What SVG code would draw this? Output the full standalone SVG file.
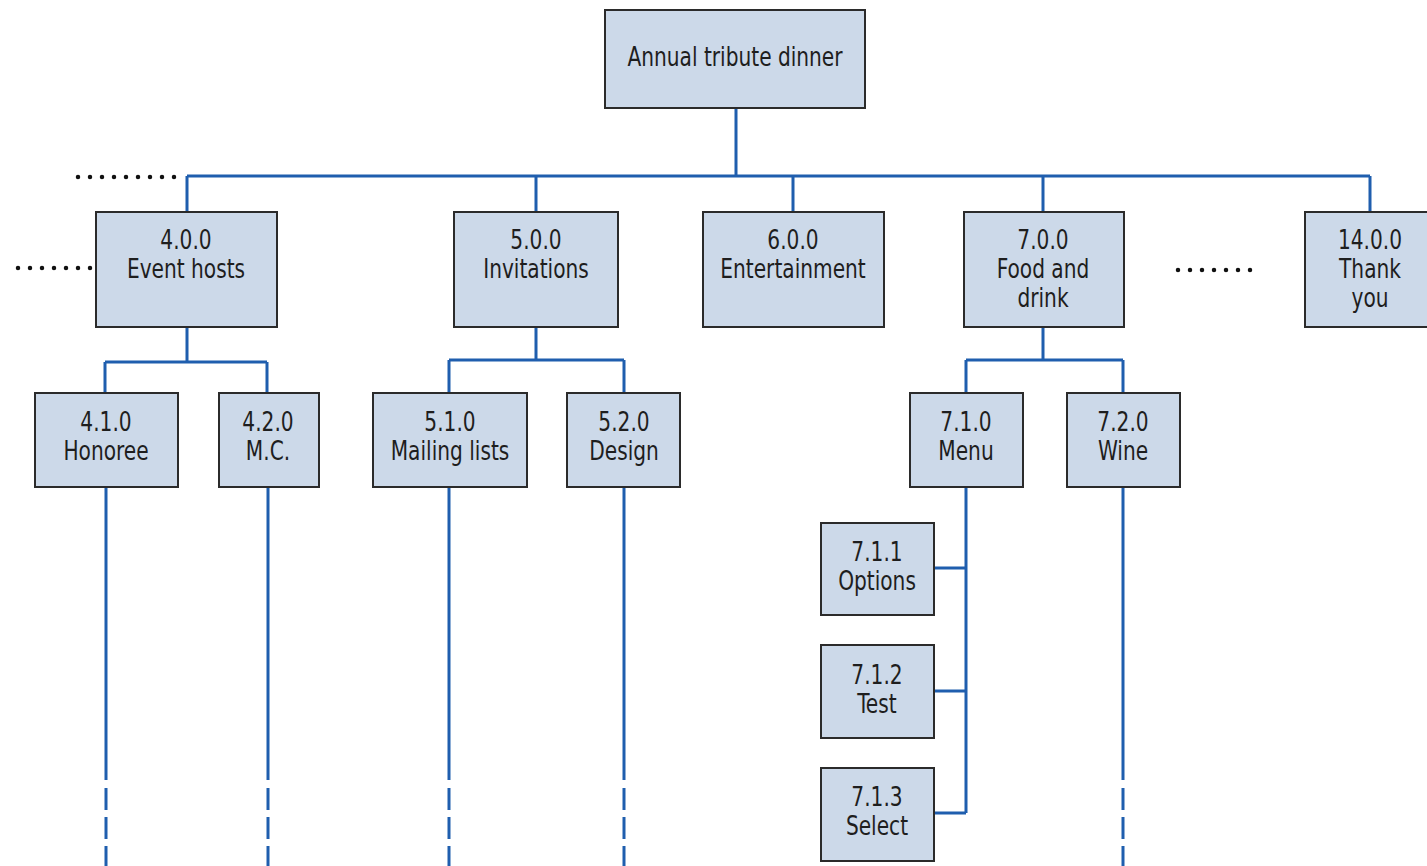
<svg xmlns="http://www.w3.org/2000/svg" width="1427" height="866" viewBox="0 0 1427 866">
<style>
.box{fill:#ccd9e9;stroke:#2b2b2b;stroke-width:2}
.t{font-family:"DejaVu Sans Condensed","Liberation Sans",sans-serif;font-size:27px;fill:#1e1e1e;text-anchor:middle}
.c{fill:none;stroke:#1f5eae;stroke-width:3}
.d{fill:none;stroke:#1f5eae;stroke-width:3;stroke-dasharray:22 7}
.dot{fill:none;stroke:#111;stroke-width:4.5;stroke-linecap:round;stroke-dasharray:0 12}
</style>
<rect width="1427" height="866" fill="#fff"/>
<g id="connectors">
<path class="c" d="M736 108V176M187 176H1370M187 176V212M536 176V212M793 176V212M1043 176V212M1370 176V212"/>
<path class="c" d="M187 327V362M105 362H267M105 362V393M267 362V393"/>
<path class="c" d="M536 327V360M449 360H624M449 360V393M624 360V393"/>
<path class="c" d="M1043 327V360M966 360H1123M966 360V393M1123 360V393"/>
<path class="c" d="M106 487V780M268 487V780M449 487V780M624 487V780M1123 487V780"/>
<path class="d" d="M106 788V866M268 788V866M449 788V866M624 788V866M1123 788V866"/>
<path class="c" d="M966 487V813M934 568H966M934 691H966M934 813H966"/>
<path class="dot" d="M78 177H186M18 268H94M1178 270H1258"/>
</g>
<g id="root"><rect class="box" x="605" y="10" width="260" height="98"/><text class="t" transform="translate(735 66) scale(0.83 1)">Annual tribute dinner</text></g>
<g id="n4"><rect class="box" x="96" y="212" width="181" height="115"/><text class="t" transform="translate(186 249) scale(0.83 1)">4.0.0</text><text class="t" transform="translate(186 278) scale(0.83 1)">Event hosts</text></g>
<g id="n5"><rect class="box" x="454" y="212" width="164" height="115"/><text class="t" transform="translate(536 249) scale(0.83 1)">5.0.0</text><text class="t" transform="translate(536 278) scale(0.83 1)">Invitations</text></g>
<g id="n6"><rect class="box" x="703" y="212" width="181" height="115"/><text class="t" transform="translate(793 249) scale(0.83 1)">6.0.0</text><text class="t" transform="translate(793 278) scale(0.83 1)">Entertainment</text></g>
<g id="n7"><rect class="box" x="964" y="212" width="160" height="115"/><text class="t" transform="translate(1043 249) scale(0.83 1)">7.0.0</text><text class="t" transform="translate(1043 278) scale(0.83 1)">Food and</text><text class="t" transform="translate(1043 307) scale(0.83 1)">drink</text></g>
<g id="n14"><rect class="box" x="1305" y="212" width="130" height="115"/><text class="t" transform="translate(1370 249) scale(0.83 1)">14.0.0</text><text class="t" transform="translate(1370 278) scale(0.83 1)">Thank</text><text class="t" transform="translate(1370 307) scale(0.83 1)">you</text></g>
<g id="n41"><rect class="box" x="35" y="393" width="143" height="94"/><text class="t" transform="translate(106 431) scale(0.83 1)">4.1.0</text><text class="t" transform="translate(106 460) scale(0.83 1)">Honoree</text></g>
<g id="n42"><rect class="box" x="219" y="393" width="100" height="94"/><text class="t" transform="translate(268 431) scale(0.83 1)">4.2.0</text><text class="t" transform="translate(268 460) scale(0.83 1)">M.C.</text></g>
<g id="n51"><rect class="box" x="373" y="393" width="154" height="94"/><text class="t" transform="translate(450 431) scale(0.83 1)">5.1.0</text><text class="t" transform="translate(450 460) scale(0.83 1)">Mailing lists</text></g>
<g id="n52"><rect class="box" x="567" y="393" width="113" height="94"/><text class="t" transform="translate(624 431) scale(0.83 1)">5.2.0</text><text class="t" transform="translate(624 460) scale(0.83 1)">Design</text></g>
<g id="n71"><rect class="box" x="910" y="393" width="113" height="94"/><text class="t" transform="translate(966 431) scale(0.83 1)">7.1.0</text><text class="t" transform="translate(966 460) scale(0.83 1)">Menu</text></g>
<g id="n72"><rect class="box" x="1067" y="393" width="113" height="94"/><text class="t" transform="translate(1123 431) scale(0.83 1)">7.2.0</text><text class="t" transform="translate(1123 460) scale(0.83 1)">Wine</text></g>
<g id="n711"><rect class="box" x="821" y="523" width="113" height="92"/><text class="t" transform="translate(877 561) scale(0.83 1)">7.1.1</text><text class="t" transform="translate(877 590) scale(0.83 1)">Options</text></g>
<g id="n712"><rect class="box" x="821" y="645" width="113" height="93"/><text class="t" transform="translate(877 684) scale(0.83 1)">7.1.2</text><text class="t" transform="translate(877 713) scale(0.83 1)">Test</text></g>
<g id="n713"><rect class="box" x="821" y="768" width="113" height="93"/><text class="t" transform="translate(877 806) scale(0.83 1)">7.1.3</text><text class="t" transform="translate(877 835) scale(0.83 1)">Select</text></g>
</svg>
